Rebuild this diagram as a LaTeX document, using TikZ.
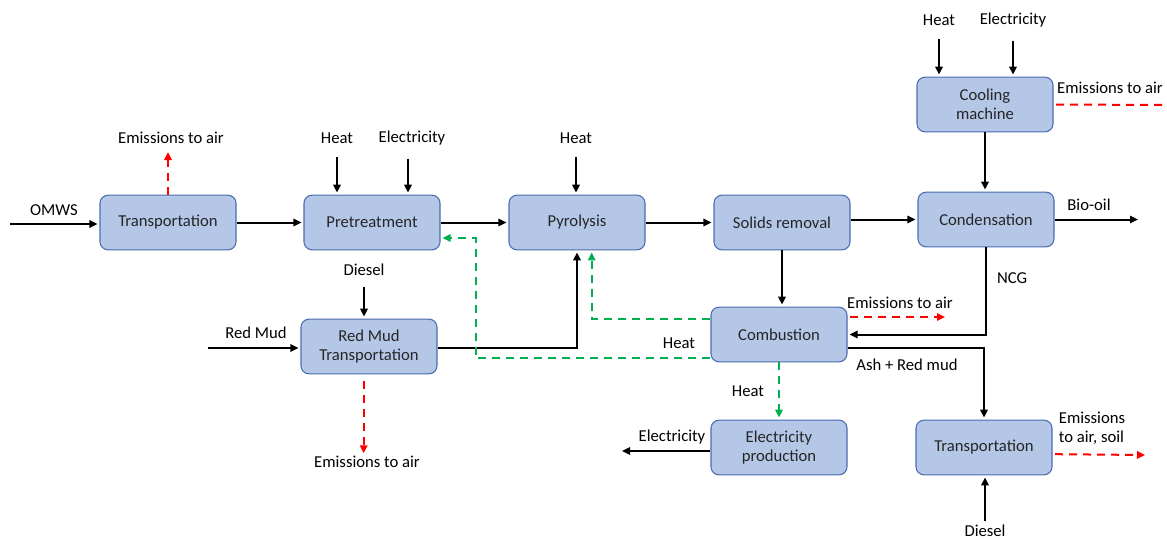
\documentclass[tikz,border=0pt]{standalone}
\usepackage{fontspec}
\setmainfont{Carlito}
\usetikzlibrary{positioning,arrows.meta,calc}
\definecolor{procfill}{HTML}{B4C7E7}
\definecolor{procline}{HTML}{4A6DB0}
\definecolor{emisred}{HTML}{FF0000}
\definecolor{heatgreen}{HTML}{00B050}
\definecolor{txtdark}{HTML}{262626}

\begin{document}
\begin{tikzpicture}[
  x=0.75pt,y=-0.75pt,
  font=\fontsize{12.5}{14.5}\selectfont,
  proc/.style={draw=procline,fill=procfill,rounded corners=6pt,line width=0.8pt,text=txtdark,
               minimum width=102pt,minimum height=41pt,align=center,inner sep=2pt},
  lbl/.style={inner sep=2pt,align=center},
  arr/.style={-{Triangle[length=6pt,width=5.5pt]},draw=black,line width=1.5pt,shorten >=1.5pt},
  arrEmis/.style={-{Triangle[length=6pt,width=5.5pt]},draw=emisred,line width=1.5pt,
                  dash pattern=on 6pt off 4.5pt},
  arrHeat/.style={-{Triangle[length=6pt,width=5.5pt]},draw=heatgreen,line width=1.5pt,
                  dash pattern=on 6pt off 4.5pt,shorten >=1.5pt},
]
\useasboundingbox (0,0) rectangle (1167,539);

% process boxes
\node[proc] (trans) at (168,222.5) {Transportation};
\node[proc] (pre) at (372,222.5) {Pretreatment};
\node[proc] (pyro) at (577,222.5) {Pyrolysis};
\node[proc] (solids) at (782,222.5) {Solids removal};
\node[proc] (cond) at (986,219.5) {Condensation};
\node[proc] (cool) at (985,104.5) {Cooling\\machine};
\node[proc] (rmTrans) at (369,346.5) {Red Mud\\Transportation};
\node[proc] (comb) at (779,334.5) {Combustion};
\node[proc] (elec) at (779,447.5) {Electricity\\production};
\node[proc] (ashTrans) at (984,447.5) {Transportation};

% inputs / outputs
\node[lbl] (omws) at (54,210) {OMWS};
\coordinate (omwsIn) at (10,224);
\node[lbl] (emTrans) at (171,138) {Emissions to air};
\node[lbl] (heatPre) at (337,138) {Heat};
\node[lbl] (elecPre) at (412,138) {Electricity};
\node[lbl] (heatPyro) at (576,138) {Heat};
\node[lbl] (heatCool) at (939,20) {Heat};
\node[lbl] (elecCool) at (1013,20) {Electricity};
\node[lbl] (emCool) at (1110,88) {Emissions to air};
\coordinate (coolEmEnd) at (1167,105);
\node[lbl] (bioOil) at (1089,205) {Bio-oil};
\coordinate (bioOut) at (1140,219.5);
\node[lbl] (ncg) at (1012,278) {NCG};
\node[lbl] (emComb) at (900,303) {Emissions to air};
\coordinate (combEmEnd) at (945,317);
\node[lbl] (ash) at (907,365) {Ash + Red mud};
\node[lbl] (heatElec) at (748,391) {Heat};
\node[lbl] (heatBack) at (679,343) {Heat};
\node[lbl] (elecOut) at (672,437) {Electricity};
\coordinate (elecOutEnd) at (620,451);
\node[lbl] (dieselAsh) at (985,531) {Diesel};
\node[lbl,align=left,anchor=west] (emAsh) at (1056,428) {Emissions\\to air, soil};
\coordinate (ashEmEnd) at (1145,455);
\node[lbl] (redMud) at (256,333) {Red Mud};
\coordinate (redMudIn) at (208,348);
\node[lbl] (dieselRm) at (364,270) {Diesel};
\node[lbl] (emRm) at (367,462) {Emissions to air};

% main line
\draw[arr] (omwsIn) -- (omwsIn -| trans.west);
\draw[arr] (trans.east) -- (pre.west);
\draw[arr] (pre.east) -- (pyro.west);
\draw[arr] (pyro.east) -- (solids.west);
\draw[arr] (solids.east |- cond) -- (cond.west);
\draw[arr] (cond.east) -- (bioOut);
\draw[arr] (cool.south) -- (cool.south |- cond.north);
\draw[arr] (solids.south) -- (solids.south |- comb.north);
\draw[arr] (cond.south) |- (comb.east);
\draw[arr] ([yshift=-10pt]comb.east) -| (ashTrans.north);
\draw[arr] (elec.west |- elecOutEnd) -- (elecOutEnd);
\draw[arr] (redMudIn) -- (redMudIn -| rmTrans.west);
\draw[arr] ([yshift=-1pt]rmTrans.east) -| (pyro.south);

% heat / electricity / diesel inputs
\draw[arr,shorten <=8pt] (heatPre.south) -- (heatPre.south |- pre.north);
\draw[arr,shorten <=8pt] ([xshift=-3pt]elecPre.south) -- ([xshift=-3pt]elecPre.south |- pre.north);
\draw[arr,shorten <=8pt] (heatPyro.south) -- (heatPyro.south |- pyro.north);
\draw[arr,shorten <=8pt] (heatCool.south) -- (heatCool.south |- cool.north);
\draw[arr,shorten <=8pt] (elecCool.south) -- (elecCool.south |- cool.north);
\draw[arr,shorten <=6pt] (dieselRm.south) -- (dieselRm.south |- rmTrans.north);
\draw[arr,shorten <=1pt] (dieselAsh.north) -- (dieselAsh.north |- ashTrans.south);

% emissions
\draw[arrEmis,shorten >=4pt] (trans.north) -- (trans.north |- emTrans.south);
\draw[arrEmis,shorten <=2pt,-] (cool.east) -- (coolEmEnd);
\draw[arrEmis,shorten <=2pt] (comb.east |- combEmEnd) -- (combEmEnd);
\draw[arrEmis,shorten <=2pt] ([yshift=-5pt]ashTrans.east) -- (ashEmEnd);
\draw[arrEmis,shorten <=5pt] ([xshift=-4pt]rmTrans.south) -- ([xshift=-4pt]rmTrans.south |- emRm.north);

% heat recovery
\coordinate (heatBend) at ($(pre.east)+(35,15.5)$);
\draw[arrHeat] ([yshift=12pt]comb.west) -| ([xshift=11pt]pyro.south);
\draw[arrHeat] ([yshift=-17.6pt]comb.west) -| (heatBend) -- (pre.east |- heatBend);
\draw[arrHeat] (comb.south) -- (elec.north);
\end{tikzpicture}
\end{document}
